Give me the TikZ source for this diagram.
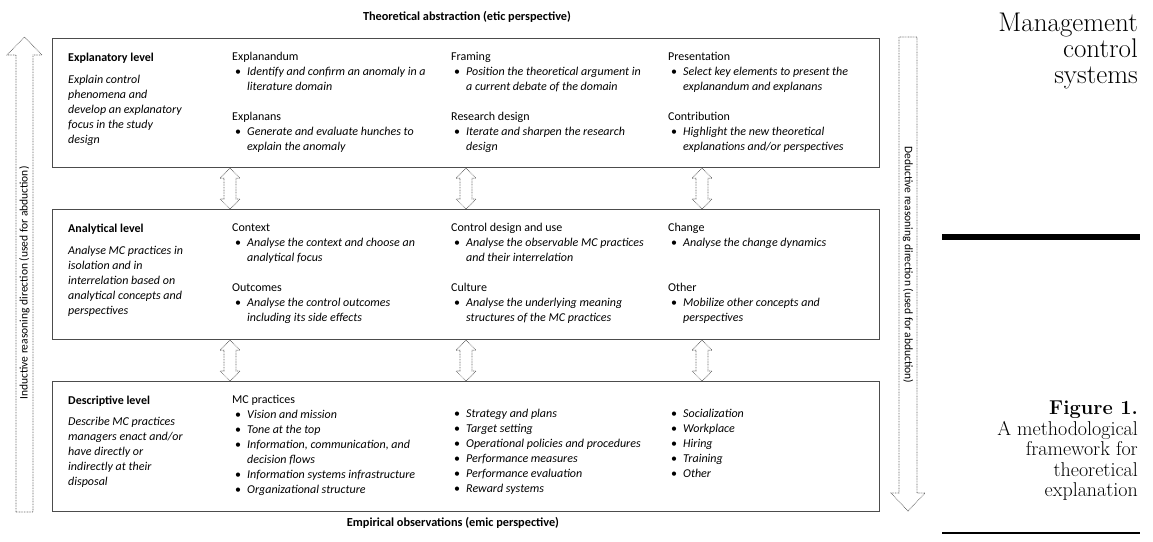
\documentclass[tikz,border=0pt]{standalone}
\usepackage{fontspec}
\newfontfamily\calibri{Carlito}
\usetikzlibrary{calc}

\newcommand{\bul}[1]{\makebox[15pt][l]{\hspace{3pt}\textbullet}\textit{#1}}
\newcommand{\cont}[1]{\hspace*{15pt}\textit{#1}}

\tikzset{
  levelbox/.style={draw=black!70, line width=1.2pt, minimum width=827pt,
    minimum height=129pt, anchor=north west, inner sep=0pt},
  coltext/.style={anchor=north west, inner sep=0pt, align=left,
    font=\calibri\fontsize{12}{15}\selectfont},
  dotline/.style={draw=black!60, line width=0.7pt,
    dash pattern=on 0.8pt off 0.8pt, fill=white},
  sidetext/.style={inner sep=0pt, font=\calibri\fontsize{11.5}{13}\selectfont},
  axistitle/.style={inner sep=0pt, font=\calibri\bfseries\fontsize{12.3}{14}\selectfont},
}

\begin{document}
\begin{tikzpicture}[x=1pt, y=-1pt]
  \useasboundingbox (0,0) rectangle (1153,541);
  %\draw[help lines, step=50] (0,0) grid (1153,541);

  % les trois niveaux
  \node[levelbox] (b1) at (52,38) {};
  \node[levelbox, minimum height=130pt] (b2) at (52,209) {};
  \node[levelbox, minimum height=130pt] (b3) at (52,381) {};

  % fleches entre les niveaux
  \foreach \px in {230,466,702} {
    \draw[dotline] let \p1=(b1.south), \p2=(b2.north) in
      (\px pt,\y1) -- ++(10pt,-10pt) -- ++(-4pt,0pt) -- (\px pt+6pt,\y2+10pt)
      -- ++(4pt,0pt) -- (\px pt,\y2) -- ++(-10pt,10pt) -- ++(4pt,0pt)
      -- (\px pt-6pt,\y1-10pt) -- ++(-4pt,0pt) -- cycle;
    \draw[dotline] let \p1=(b2.south), \p2=(b3.north) in
      (\px pt,\y1) -- ++(10pt,-10pt) -- ++(-4pt,0pt) -- (\px pt+6pt,\y2+10pt)
      -- ++(4pt,0pt) -- (\px pt,\y2) -- ++(-10pt,10pt) -- ++(4pt,0pt)
      -- (\px pt-6pt,\y1-10pt) -- ++(-4pt,0pt) -- cycle;
  }

  % explanatory level
  \node[coltext] (c11) at (68,52.4) {\textbf{Explanatory level}\\[7pt]
    \textit{Explain control}\\ \textit{phenomena and}\\
    \textit{develop an explanatory}\\ \textit{focus in the study}\\ \textit{design}};
  \node[coltext] (c12) at (232,52.4) {Explanandum\\
    \bul{Identify and confirm an anomaly in a}\\ \cont{literature domain}\\[15pt]
    Explanans\\ \bul{Generate and evaluate hunches to}\\ \cont{explain the anomaly}};
  \node[coltext] (c13) at (451,52.4) {Framing\\
    \bul{Position the theoretical argument in}\\ \cont{a current debate of the domain}\\[15pt]
    Research design\\ \bul{Iterate and sharpen the research}\\ \cont{design}};
  \node[coltext] (c14) at (668,52.4) {Presentation\\
    \bul{Select key elements to present the}\\ \cont{explanandum and explanans}\\[15pt]
    Contribution\\ \bul{Highlight the new theoretical}\\ \cont{explanations and/or perspectives}};

  % analytical level
  \node[coltext] (c21) at (68,223.4) {\textbf{Analytical level}\\[7pt]
    \textit{Analyse MC practices in}\\ \textit{isolation and in}\\
    \textit{interrelation based on}\\ \textit{analytical concepts and}\\ \textit{perspectives}};
  \node[coltext] (c22) at (232,223.4) {Context\\
    \bul{Analyse the context and choose an}\\ \cont{analytical focus}\\[15pt]
    Outcomes\\ \bul{Analyse the control outcomes}\\ \cont{including its side effects}};
  \node[coltext] (c23) at (451,223.4) {Control design and use\\
    \bul{Analyse the observable MC practices}\\ \cont{and their interrelation}\\[15pt]
    Culture\\ \bul{Analyse the underlying meaning}\\ \cont{structures of the MC practices}};
  \node[coltext] (c24) at (668,223.4) {Change\\
    \bul{Analyse the change dynamics}\\[30pt]
    Other\\ \bul{Mobilize other concepts and}\\ \cont{perspectives}};

  % descriptive level
  \node[coltext] (c31) at (68,395.4) {\textbf{Descriptive level}\\[6pt]
    \textit{Describe MC practices}\\ \textit{managers enact and/or}\\
    \textit{have directly or}\\ \textit{indirectly at their}\\ \textit{disposal}};
  \node[coltext] (c32) at (232,395.4) {MC practices\\
    \bul{Vision and mission}\\ \bul{Tone at the top}\\
    \bul{Information, communication, and}\\ \cont{decision flows}\\
    \bul{Information systems infrastructure}\\ \bul{Organizational structure}};
  \node[coltext] (c33) at (451,409.4) {\bul{Strategy and plans}\\
    \bul{Target setting}\\ \bul{Operational policies and procedures}\\
    \bul{Performance measures}\\ \bul{Performance evaluation}\\ \bul{Reward systems}};
  \node[coltext] (c34) at (668,409.4) {\bul{Socialization}\\
    \bul{Workplace}\\ \bul{Hiring}\\ \bul{Training}\\ \bul{Other}};

  % titres haut et bas
  \node[axistitle] (top) at (467,17) {Theoretical abstraction (etic perspective)};
  \node[axistitle] (bot) at (453,523) {Empirical observations (emic perspective)};

  % fleches laterales
  \draw[dotline] (16,512) -- (16,55) -- (7,55) -- (24.5,37) -- (42,55)
    -- (33,55) -- (33,512) -- cycle;
  \node[sidetext, rotate=90] (ind) at (24.5,283)
    {Inductive reasoning direction (used for abduction)};
  \draw[dotline] (899,37) -- (899,493) -- (891,493) -- (908,511) -- (925,493)
    -- (917,493) -- (917,37) -- cycle;
  \node[sidetext, rotate=-90] (ded) at (908,265)
    {Deductive reasoning direction (used for abduction)};

  % marge droite
  \node[anchor=north east, align=right, inner sep=0pt,
    font=\fontsize{27}{26}\selectfont] (mcs) at (1138,13)
    {Management\\ control\\ systems};
  \fill (942,234) rectangle (1140,240);
  \node[anchor=north east, align=right, inner sep=0pt,
    font=\fontsize{20}{20.5}\selectfont] (fig) at (1138,401)
    {\textbf{Figure 1.}\\ A methodological\\ framework for\\ theoretical\\ explanation};
  \draw[line width=1.5pt] (942,533) -- (1140,533);
\end{tikzpicture}
\end{document}
